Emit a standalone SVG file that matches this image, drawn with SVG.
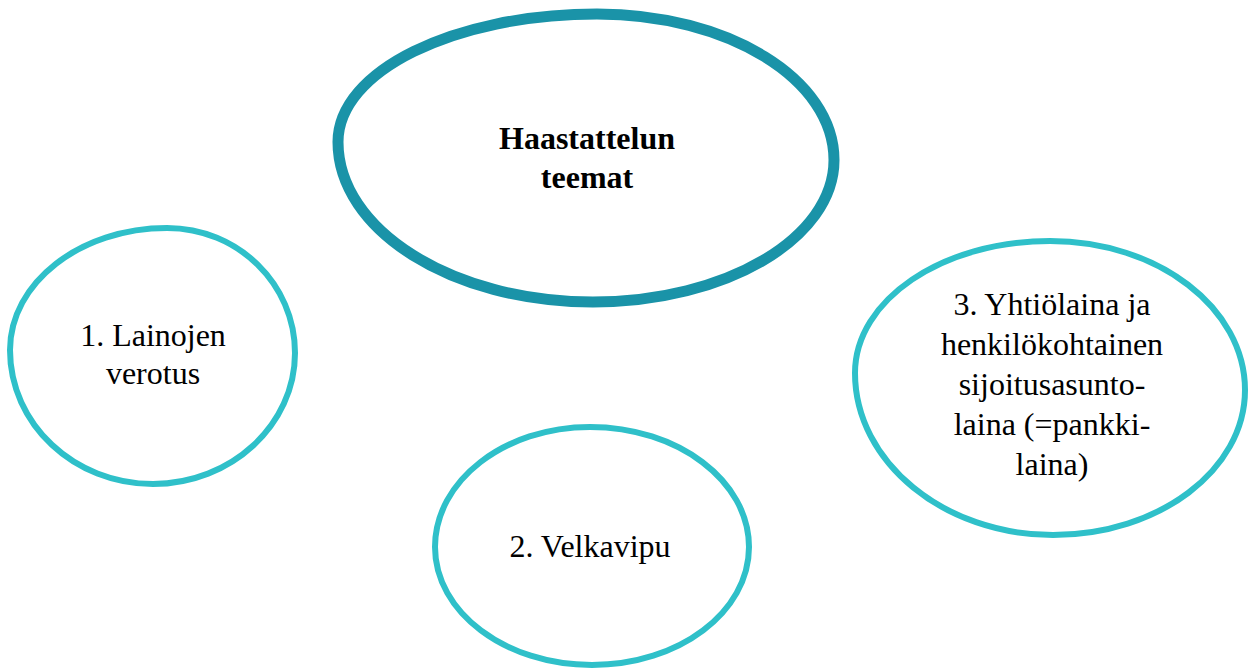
<svg xmlns="http://www.w3.org/2000/svg" width="1250" height="671" viewBox="0 0 1250 671">
<style>
.bg{fill:#ffffff}
.shape{fill:#ffffff;stroke-linejoin:round;stroke-linecap:round}
.main{stroke:#1a93a8;stroke-width:11}
.sub{stroke:#2fc0c9;stroke-width:6}
text{font-family:"Liberation Serif","Times New Roman",serif;font-size:32px;fill:#000000;text-anchor:middle}
.bold{font-weight:bold}
</style>
<rect class="bg" x="0" y="0" width="1250" height="671"/>
<g id="connectors"></g>
<g id="node-main">
<path class="shape main" d="M597,14 C728,14 834,79 834,160 C834,238 726,302 593,302 C452,302 338,230 338,142 C338,71 454,14 597,14 Z"/>
<text class="bold" x="587" y="149">Haastattelun</text>
<text class="bold" x="587" y="188">teemat</text>
</g>
<g id="node-1">
<path class="shape sub" d="M167,228 C238,228 295,284 295,353 C295,425 231,484 153,484 C74,484 10,424 10,350 C10,283 80,228 167,228 Z"/>
<text x="153" y="346">1. Lainojen</text>
<text x="153" y="384">verotus</text>
</g>
<g id="node-2">
<path class="shape sub" d="M590,427 C678,427 749,481 749,547 C749,612 679,665 592,665 C505,665 435,612 435,547 C435,481 504,427 590,427 Z"/>
<text x="590" y="557">2. Velkavipu</text>
</g>
<g id="node-3">
<path class="shape sub" d="M1050,241 C1158,241 1245,308 1245,390 C1245,470 1159,535 1053,535 C944,535 855,462 855,373 C855,300 942,241 1050,241 Z"/>
<text x="1052" y="315">3. Yhtiölaina ja</text>
<text x="1052" y="355">henkilökohtainen</text>
<text x="1052" y="395">sijoitusasunto-</text>
<text x="1052" y="435">laina (=pankki-</text>
<text x="1052" y="475">laina)</text>
</g>
</svg>
